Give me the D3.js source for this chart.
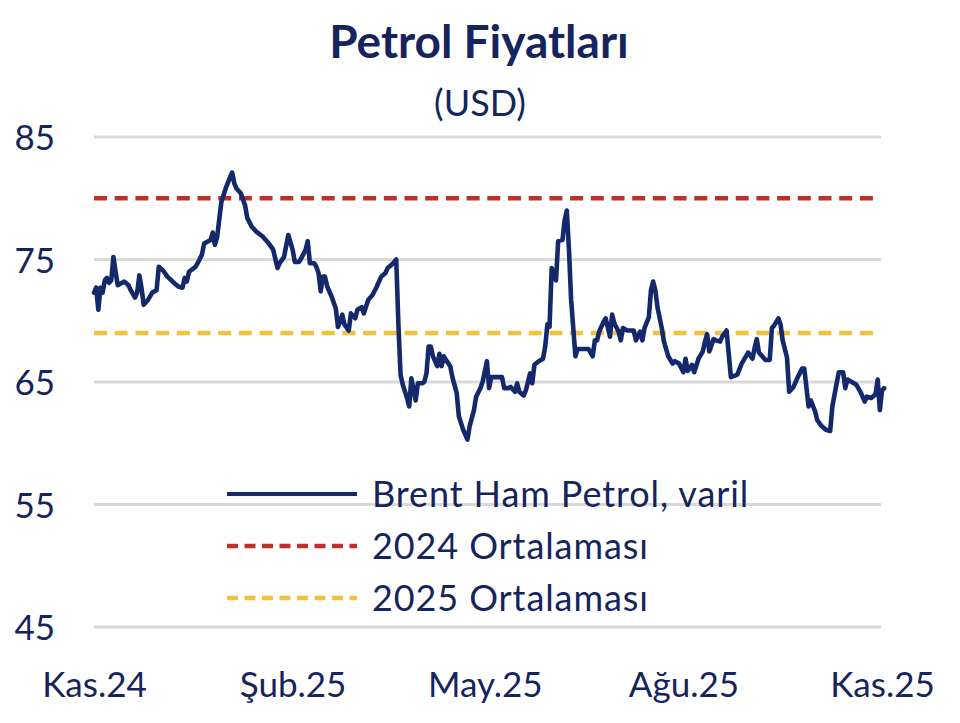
<!DOCTYPE html>
<html>
<head>
<meta charset="utf-8">
<script src="https://cdn.jsdelivr.net/npm/d3@7"></script>
<style>
  html, body { margin: 0; padding: 0; background: #ffffff; }
  svg { display: block; }
  text { font-family: Lato, "Noto Sans", sans-serif; fill: #16245e; }
</style>
</head>
<body>
<svg id="chart" width="960" height="723"></svg>
<script>
// ---------------- DATA ----------------
const titleText = "Petrol Fiyatları";
const subtitleText = "(USD)";
const seriesNames = ["Brent Ham Petrol, varil", "2024 Ortalaması", "2025 Ortalaması"];
const avg2024 = 80.0;
const avg2025 = 69.0;
const yTicks = [45, 55, 65, 75, 85];
const xTickDates = ["2024-11-01", "2025-02-01", "2025-05-01", "2025-08-01", "2025-11-01"];
const xTickLabels = ["Kas.24", "Şub.25", "May.25", "Ağu.25", "Kas.25"];

const dates = [
"2024-11-01","2024-11-02","2024-11-03","2024-11-04","2024-11-05","2024-11-06","2024-11-07","2024-11-08","2024-11-09","2024-11-10",
"2024-11-11","2024-11-12","2024-11-14","2024-11-15","2024-11-17","2024-11-18","2024-11-20","2024-11-21","2024-11-22","2024-11-23",
"2024-11-24","2024-11-26","2024-11-28","2024-11-30","2024-12-01","2024-12-03","2024-12-05","2024-12-08","2024-12-10","2024-12-12",
"2024-12-13","2024-12-14","2024-12-15","2024-12-18","2024-12-19","2024-12-21","2024-12-22","2024-12-25","2024-12-26","2024-12-27",
"2024-12-28","2024-12-30","2025-01-01","2025-01-03","2025-01-04","2025-01-05","2025-01-06","2025-01-08","2025-01-10","2025-01-11",
"2025-01-13","2025-01-15","2025-01-18","2025-01-21","2025-01-23","2025-01-25","2025-01-26","2025-01-28","2025-01-30","2025-02-01",
"2025-02-02","2025-02-04","2025-02-05","2025-02-07","2025-02-08","2025-02-09","2025-02-11","2025-02-12","2025-02-13","2025-02-14",
"2025-02-15","2025-02-16","2025-02-17","2025-02-19","2025-02-21","2025-02-22","2025-02-23","2025-02-24","2025-02-25","2025-02-27",
"2025-02-28","2025-03-02","2025-03-03","2025-03-05","2025-03-06","2025-03-08","2025-03-10","2025-03-12","2025-03-14","2025-03-16",
"2025-03-17","2025-03-19","2025-03-21","2025-03-22","2025-03-23","2025-03-24","2025-03-26","2025-03-27","2025-03-28","2025-03-30",
"2025-03-31","2025-04-02","2025-04-03","2025-04-04","2025-04-05","2025-04-06","2025-04-07","2025-04-09","2025-04-10","2025-04-11",
"2025-04-12","2025-04-13","2025-04-15","2025-04-16","2025-04-18","2025-04-19","2025-04-21","2025-04-23","2025-04-24","2025-04-26",
"2025-04-27","2025-04-29","2025-04-30","2025-05-02","2025-05-03","2025-05-04","2025-05-06","2025-05-09","2025-05-10","2025-05-12",
"2025-05-13","2025-05-15","2025-05-16","2025-05-17","2025-05-19","2025-05-20","2025-05-22","2025-05-23","2025-05-24","2025-05-26",
"2025-05-28","2025-05-29","2025-05-30","2025-05-31","2025-06-01","2025-06-02","2025-06-03","2025-06-04","2025-06-06","2025-06-07",
"2025-06-08","2025-06-09","2025-06-10","2025-06-12","2025-06-13","2025-06-18","2025-06-20","2025-06-21","2025-06-22","2025-06-23",
"2025-06-25","2025-06-26","2025-06-28","2025-06-29","2025-06-30","2025-07-02","2025-07-03","2025-07-04","2025-07-06","2025-07-09",
"2025-07-10","2025-07-12","2025-07-13","2025-07-14","2025-07-16","2025-07-17","2025-07-18","2025-07-19","2025-07-20","2025-07-22",
"2025-07-23","2025-07-25","2025-07-27","2025-07-28","2025-07-30","2025-08-01","2025-08-02","2025-08-03","2025-08-05","2025-08-06",
"2025-08-08","2025-08-10","2025-08-11","2025-08-12","2025-08-13","2025-08-15","2025-08-16","2025-08-18","2025-08-19","2025-08-21",
"2025-08-22","2025-08-23","2025-08-26","2025-08-28","2025-08-29","2025-08-31","2025-09-02","2025-09-03","2025-09-04","2025-09-05",
"2025-09-08","2025-09-10","2025-09-11","2025-09-12","2025-09-14","2025-09-15","2025-09-16","2025-09-18","2025-09-19","2025-09-21",
"2025-09-23","2025-09-25","2025-09-26","2025-09-28","2025-09-29","2025-10-01","2025-10-02","2025-10-04","2025-10-06","2025-10-08",
"2025-10-09","2025-10-11","2025-10-12","2025-10-14","2025-10-15","2025-10-16","2025-10-18","2025-10-20","2025-10-22","2025-10-24",
"2025-10-25","2025-10-27","2025-10-29","2025-10-30","2025-10-31","2025-11-01","2025-11-02"
];

const brent = [
72.3,72.7,70.9,72.7,72.3,73.3,73.5,73.1,73.3,75.2,
74.0,72.9,73.1,73.2,72.9,72.5,71.9,72.3,73.7,72.7,
71.3,71.7,72.3,72.5,74.4,74.1,73.6,73.1,72.8,72.7,
73.5,73.2,74.0,74.4,74.7,75.4,76.3,76.6,77.2,76.2,
76.8,79.7,80.8,81.7,82.1,81.2,80.8,80.4,79.4,78.4,
77.7,77.3,76.9,76.3,75.8,74.3,74.7,75.2,77.0,75.8,
74.8,74.8,75.1,75.8,76.5,74.7,74.7,74.4,73.9,72.4,
73.6,73.6,72.8,72.0,71.0,69.5,69.9,70.5,69.7,69.2,
70.6,70.2,70.9,71.1,70.6,71.7,72.1,72.8,73.6,73.9,
74.3,74.6,75.0,69.7,65.6,64.8,63.7,63.0,65.3,63.5,
64.9,64.9,65.0,65.7,67.9,67.9,67.1,66.3,67.3,66.3,
67.1,66.8,66.3,65.4,64.1,62.2,61.1,60.3,61.4,62.7,
63.8,64.5,65.0,66.7,64.5,65.4,65.4,65.4,64.5,64.5,
64.6,64.2,64.9,64.2,63.9,64.3,65.7,64.9,66.4,66.7,
66.9,67.9,69.7,69.5,74.3,73.7,73.3,76.5,76.6,78.2,
79.0,75.8,71.7,67.1,67.7,67.7,67.1,68.4,68.4,69.1,
69.9,70.2,68.7,70.5,69.8,69.1,68.4,69.4,69.2,69.2,
68.4,69.1,68.4,69.4,70.3,72.5,73.2,72.5,71.1,69.4,
68.3,67.1,66.5,66.7,66.5,65.8,66.9,65.9,66.4,65.8,
66.9,67.5,68.3,68.9,67.5,68.5,68.4,68.3,68.7,69.2,
67.3,65.4,65.6,66.5,66.8,67.4,66.9,67.8,68.5,67.4,
66.8,66.8,69.4,69.6,70.2,69.7,68.4,67.0,64.2,64.6,
65.4,66.1,66.1,63.0,63.5,62.6,61.9,61.4,61.1,61.0,
63.0,64.9,65.8,65.8,64.5,65.2,65.0,64.8,64.2,63.4,
63.8,63.7,64.0,65.2,62.7,64.3,64.5
];

// ---------------- CHART ----------------
const parse = d3.timeParse("%Y-%m-%d");
const data = dates.map((d, i) => ({ date: parse(d), value: brent[i] }));

const svg = d3.select("#chart");
const x = d3.scaleTime()
  .domain([parse(xTickDates[0]), parse(xTickDates[xTickDates.length - 1])])
  .range([94, 882]);
const y = d3.scaleLinear().domain([45, 85]).range([627, 137]);

const navy = "#14296b";
const red = "#c0302a";
const yellow = "#f4c13a";
const grid = "#d9d9d9";

// gridlines
svg.append("g")
  .selectAll("line")
  .data(yTicks)
  .join("line")
  .attr("x1", 94).attr("x2", 881)
  .attr("y1", d => y(d)).attr("y2", d => y(d))
  .attr("stroke", grid).attr("stroke-width", 3);

// y axis labels
const yAxis = d3.axisLeft(y).tickValues(yTicks).tickSize(0).tickPadding(0).tickFormat(d3.format("d"));
const gy = svg.append("g").attr("transform", "translate(55,0)").call(yAxis);
gy.select(".domain").remove();
gy.selectAll("text")
  .attr("font-size", 35)
  .attr("font-family", "Lato, sans-serif")
  .attr("fill", "#16245e")
  .attr("dy", "0.36em");

// x axis labels
const xAxis = d3.axisBottom(x)
  .tickValues(xTickDates.map(parse))
  .tickSize(0).tickPadding(0)
  .tickFormat((d, i) => xTickLabels[i]);
const gx = svg.append("g").attr("transform", "translate(0,697)").call(xAxis);
gx.select(".domain").remove();
gx.selectAll("text")
  .attr("font-size", 35)
  .attr("font-family", "Lato, sans-serif")
  .attr("fill", "#16245e")
  .attr("dy", 0).attr("y", 0);

// average lines
const avgs = [{ v: avg2024, c: red }, { v: avg2025, c: yellow }];
svg.append("g")
  .selectAll("line")
  .data(avgs)
  .join("line")
  .attr("x1", 94).attr("x2", 880)
  .attr("y1", d => y(d.v)).attr("y2", d => y(d.v))
  .attr("stroke", d => d.c)
  .attr("stroke-width", 4.5)
  .attr("stroke-dasharray", "13 7.7");

// Brent line
const line = d3.line().x(d => x(d.date)).y(d => y(d.value));
svg.append("path")
  .datum(data)
  .attr("d", line)
  .attr("fill", "none")
  .attr("stroke", navy)
  .attr("stroke-width", 4.6)
  .attr("stroke-linejoin", "round")
  .attr("stroke-linecap", "round");

// title
svg.append("text")
  .attr("x", 479).attr("y", 58)
  .attr("text-anchor", "middle")
  .attr("font-weight", 700)
  .attr("font-size", 46)
  .text(titleText);
svg.append("text")
  .attr("x", 480).attr("y", 116)
  .attr("text-anchor", "middle")
  .attr("font-size", 36)
  .text(subtitleText);

// legend
const legendItems = [
  { name: seriesNames[0], c: navy, dash: null },
  { name: seriesNames[1], c: red, dash: "11 6.5" },
  { name: seriesNames[2], c: yellow, dash: "11 6.5" }
];
const lg = svg.append("g");
const rows = lg.selectAll("g").data(legendItems).join("g")
  .attr("transform", (d, i) => `translate(0,${494 + i * 52})`);
rows.append("line")
  .attr("x1", 227).attr("x2", 357)
  .attr("y1", 0).attr("y2", 0)
  .attr("stroke", d => d.c)
  .attr("stroke-width", d => d.dash ? 4.5 : 4)
  .attr("stroke-dasharray", d => d.dash);
rows.append("text")
  .attr("x", 372).attr("y", 0)
  .attr("dy", "0.36em")
  .attr("font-size", 36)
  .attr("letter-spacing", 0.9)
  .text(d => d.name);
</script>
</body>
</html>
